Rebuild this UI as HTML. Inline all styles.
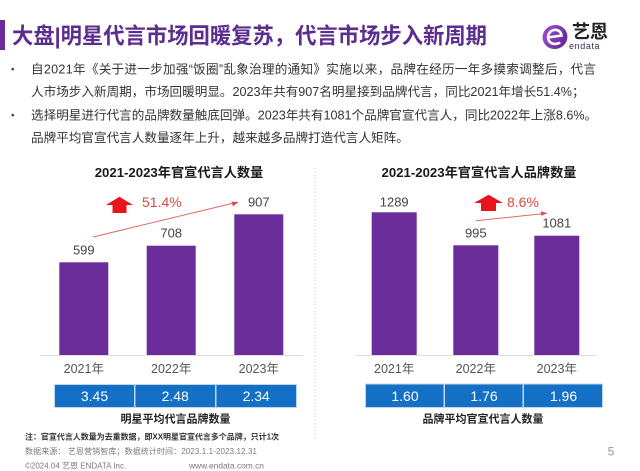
<!DOCTYPE html>
<html>
<head>
<meta charset="utf-8">
<style>
  html,body{margin:0;padding:0;background:#fff;}
  body{width:640px;height:471px;overflow:hidden;}
  svg{display:block;}
  text{font-family:"Liberation Sans","Noto Sans CJK SC",sans-serif;}
</style>
</head>
<body>
<svg width="640" height="471" viewBox="0 0 640 471" xmlns="http://www.w3.org/2000/svg">
  <rect x="0" y="0" width="640" height="471" fill="#ffffff"/>

  <!-- Title -->
  <rect x="0" y="20" width="5" height="30" fill="#6a2c9a"/>
  <text x="12" y="43.5" font-size="22.3" font-weight="bold" fill="#5b2d8e" textLength="475" lengthAdjust="spacingAndGlyphs">大盘|明星代言市场回暖复苏，代言市场步入新周期</text>

  <!-- Logo -->
  <defs>
    <linearGradient id="lg" x1="0" y1="0" x2="1" y2="1">
      <stop offset="0" stop-color="#a552d6"/>
      <stop offset="1" stop-color="#5a2388"/>
    </linearGradient>
  </defs>
  <ellipse cx="555" cy="37" rx="12.5" ry="12" fill="url(#lg)" transform="rotate(-20 555 37)"/>
  <path d="M548 37.5 L561.5 35.5 C561 31 557 29.2 553.8 30 C549.5 31 547.3 35.3 548.3 39.2 C549.5 43.5 554.3 45.2 559.2 43" fill="none" stroke="#ffffff" stroke-width="2.6" stroke-linecap="round"/>
  <text x="572" y="38" font-size="18" font-weight="bold" fill="#222">艺恩</text>
  <text x="569" y="49" font-size="9" fill="#3a2a55" letter-spacing="0.6">endata</text>

  <!-- Bullets -->
  <g font-size="12.6" fill="#333">
    <text x="11" y="72.5" font-size="10" fill="#444">•</text>
    <text x="31" y="73.3" textLength="565" lengthAdjust="spacing">自2021年《关于进一步加强“饭圈”乱象治理的通知》实施以来，品牌在经历一年多摸索调整后，代言</text>
    <text x="31" y="96">人市场步入新周期，市场回暖明显。2023年共有907名明星接到品牌代言，同比2021年增长51.4%；</text>
    <text x="11" y="118.5" font-size="10" fill="#444">•</text>
    <text x="31" y="119.3">选择明星进行代言的品牌数量触底回弹。2023年共有1081个品牌官宣代言人，同比2022年上涨8.6%。</text>
    <text x="31" y="141.8">品牌平均官宣代言人数量逐年上升，越来越多品牌打造代言人矩阵。</text>
  </g>

  <!-- Separator -->
  <line x1="315" y1="168" x2="315" y2="440" stroke="#c8c8c8" stroke-width="1" stroke-dasharray="1.2,2.2"/>

  <!-- LEFT CHART -->
  <text x="179" y="177" font-size="13.2" font-weight="bold" fill="#1a1a1a" text-anchor="middle">2021-2023年官宣代言人数量</text>
  <line x1="40" y1="355.5" x2="303" y2="355.5" stroke="#dddddd" stroke-width="1"/>
  <rect x="59.3" y="262.3" width="49" height="92.7" fill="#6a2d9a"/>
  <rect x="146.7" y="245.7" width="49" height="109.3" fill="#6a2d9a"/>
  <rect x="234.3" y="214.3" width="49" height="140.7" fill="#6a2d9a"/>
  <g font-size="13" fill="#444" text-anchor="middle">
    <text x="83.8" y="254.7">599</text>
    <text x="171.2" y="237.7">708</text>
    <text x="258.8" y="206.7">907</text>
  </g>
  <g font-size="12.5" fill="#555" text-anchor="middle">
    <text x="83.8" y="373">2021年</text>
    <text x="171.2" y="373">2022年</text>
    <text x="258.8" y="373">2023年</text>
  </g>
  <!-- growth arrow left -->
  <polygon points="106,205 119.5,196.8 133,205 126.5,205 126.5,213 112.5,213 112.5,205" fill="#e8141a"/>
  <text x="142" y="207" font-size="14" fill="#d94a46">51.4%</text>
  <line x1="93" y1="237" x2="236" y2="202.5" stroke="#de6b68" stroke-width="1"/>
  <polygon points="238.5,202 231.5,201.6 233,206.4" fill="#de4a46"/>

  <!-- RIGHT CHART -->
  <text x="479" y="177" font-size="13.2" font-weight="bold" fill="#1a1a1a" text-anchor="middle">2021-2023年官宣代言人品牌数量</text>
  <line x1="355" y1="355.5" x2="597" y2="355.5" stroke="#dddddd" stroke-width="1"/>
  <rect x="371.7" y="212.3" width="45" height="142.7" fill="#6a2d9a"/>
  <rect x="453.3" y="245.3" width="45" height="109.7" fill="#6a2d9a"/>
  <rect x="534.3" y="235.7" width="45" height="119.3" fill="#6a2d9a"/>
  <g font-size="13" fill="#444" text-anchor="middle">
    <text x="394.2" y="206.4">1289</text>
    <text x="475.8" y="237.7">995</text>
    <text x="556.8" y="227.7">1081</text>
  </g>
  <g font-size="12.5" fill="#555" text-anchor="middle">
    <text x="394.2" y="373">2021年</text>
    <text x="475.8" y="373">2022年</text>
    <text x="556.8" y="373">2023年</text>
  </g>
  <polygon points="474,203 488.5,194.8 503,203 496,203 496,211 481,211 481,203" fill="#e8141a"/>
  <text x="507" y="207" font-size="14" fill="#d94a46">8.6%</text>
  <line x1="476" y1="220.7" x2="545" y2="213.5" stroke="#de6b68" stroke-width="1"/>
  <polygon points="547.5,213.2 540.8,211.2 541.3,215.8" fill="#de4a46"/>

  <!-- LEFT TABLE -->
  <g>
    <rect x="54" y="384" width="243" height="24" fill="#bcd8f0"/>
    <rect x="55" y="385" width="79" height="22" fill="#1470c4"/>
    <rect x="135.5" y="385" width="79.5" height="22" fill="#1470c4"/>
    <rect x="216.5" y="385" width="79.5" height="22" fill="#1470c4"/>
  </g>
  <g font-size="14" fill="#ffffff" text-anchor="middle">
    <text x="94.5" y="401">3.45</text>
    <text x="175.2" y="401">2.48</text>
    <text x="256.2" y="401">2.34</text>
  </g>
  <text x="175.5" y="422.7" font-size="11" font-weight="bold" fill="#222" text-anchor="middle">明星平均代言品牌数量</text>

  <!-- RIGHT TABLE -->
  <g>
    <rect x="365" y="383.5" width="238" height="24.5" fill="#bcd8f0"/>
    <rect x="366" y="384.5" width="77.5" height="22.5" fill="#1470c4"/>
    <rect x="445" y="384.5" width="77.5" height="22.5" fill="#1470c4"/>
    <rect x="524" y="384.5" width="78" height="22.5" fill="#1470c4"/>
  </g>
  <g font-size="14" fill="#ffffff" text-anchor="middle">
    <text x="405" y="400.8">1.60</text>
    <text x="484" y="400.8">1.76</text>
    <text x="563.5" y="400.8">1.96</text>
  </g>
  <text x="483" y="422.7" font-size="11" font-weight="bold" fill="#222" text-anchor="middle">品牌平均官宣代言人数量</text>

  <!-- Footer -->
  <text x="25" y="439.7" font-size="8" font-weight="bold" fill="#333" textLength="254" lengthAdjust="spacing">注：官宣代言人数量为去重数据，即XX明星官宣代言多个品牌，只计1次</text>
  <text x="25" y="454" font-size="8" fill="#7a7a7a" textLength="232" lengthAdjust="spacing">数据来源： 艺恩营销智库；数据统计时间：2023.1.1-2023.12.31</text>
  <text x="25" y="468.7" font-size="8" fill="#7a7a7a">©2024.04 艺恩 ENDATA Inc.</text>
  <text x="189" y="468.7" font-size="8.4" fill="#7a7a7a">www.endata.com.cn</text>
  <text x="611" y="455.5" font-size="12" fill="#999" text-anchor="middle">5</text>
</svg>
</body>
</html>
